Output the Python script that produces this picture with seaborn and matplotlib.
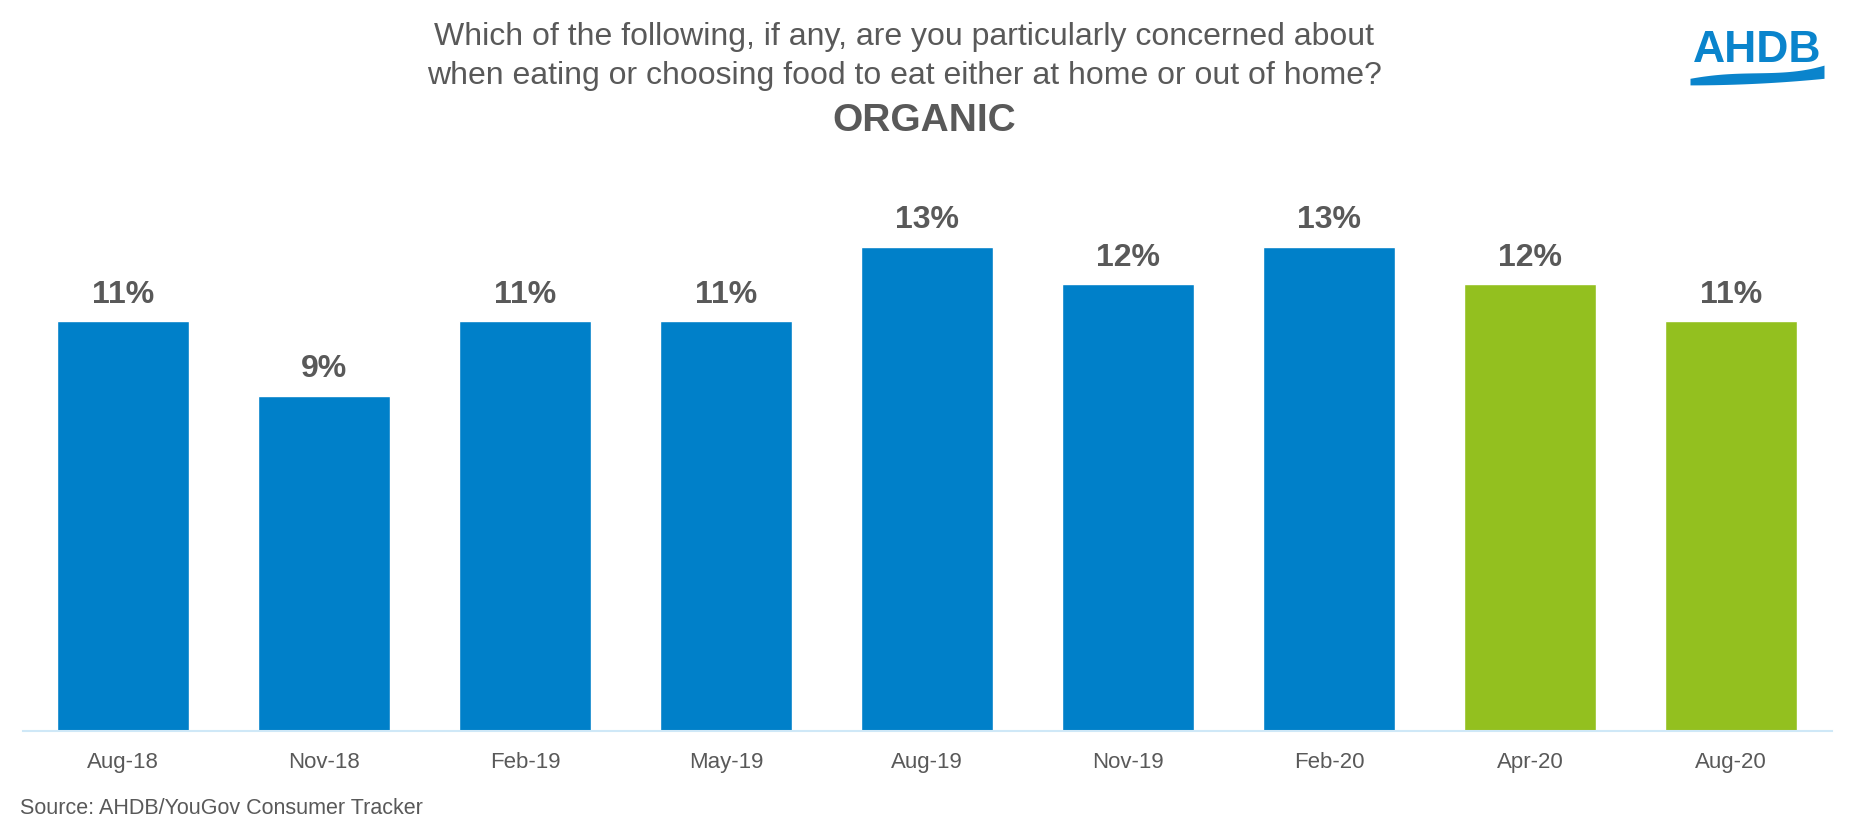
import numpy as np
import pandas as pd
import matplotlib.pyplot as plt
import seaborn as sns

# Chart data
periods = ['Aug-18', 'Nov-18', 'Feb-19', 'May-19', 'Aug-19', 'Nov-19', 'Feb-20', 'Apr-20', 'Aug-20']
values = [11, 9, 11, 11, 13, 12, 13, 12, 11]
groups = ['pre', 'pre', 'pre', 'pre', 'pre', 'pre', 'pre', 'covid', 'covid']

df = pd.DataFrame({'period': periods, 'value': values, 'group': groups})

sns.set_theme(style="white")
plt.rcParams['font.family'] = ['Liberation Sans', 'DejaVu Sans']

GREY = '#595959'
BLUE = '#0080C9'
GREEN = '#93C01F'

fig = plt.figure(figsize=(18.53, 8.38), dpi=100)
ax = fig.add_axes([22.5 / 1853, 107 / 838, 1809 / 1853, 559 / 838])

sns.barplot(data=df, x='period', y='value', hue='group', dodge=False,
            palette={'pre': BLUE, 'covid': GREEN}, width=0.66,
            legend=False, ax=ax, saturation=1)

for cont in ax.containers:
    ax.bar_label(cont, fmt='%d%%', padding=8, fontsize=23, fontweight='bold', color=GREY)

ax.set_xlim(-0.5, len(periods) - 0.5)
ax.set_ylim(0, 15)
ax.set_xlabel('')
ax.set_ylabel('')
ax.set_yticks([])
for side in ['top', 'right', 'left']:
    ax.spines[side].set_visible(False)
ax.spines['bottom'].set_color('#CFE8F7')
ax.spines['bottom'].set_linewidth(1.5)
ax.tick_params(axis='x', length=0, pad=15, labelsize=16, labelcolor=GREY)

# Title
fig.text(0.488, 1 - 37 / 838, 'Which of the following, if any, are you particularly concerned about',
         ha='center', va='center', fontsize=23, color=GREY)
fig.text(0.488, 1 - 76 / 838, 'when eating or choosing food to eat either at home or out of home?',
         ha='center', va='center', fontsize=23, color=GREY)
fig.text(0.499, 1 - 121 / 838, 'ORGANIC', ha='center', va='center',
         fontsize=28, fontweight='bold', color=GREY)

# Source
fig.text(20 / 1853, 1 - 808 / 838, 'Source: AHDB/YouGov Consumer Tracker',
         ha='left', va='center', fontsize=15.5, color=GREY)

# Logo
fig.text(1757 / 1853, 1 - 50 / 838, 'AHDB', ha='center', va='center',
         fontsize=32, fontweight='bold', color='#0A84CC')
lax = fig.add_axes([1690 / 1853, 1 - 86 / 838, 134 / 1853, 22 / 838])
t = np.linspace(0, 1, 100)
upper = 0.35 + 0.35 * np.sin(np.pi * t) * (1 - t) + 0.6 * t ** 3
lower = 0.05 + 0.3 * t ** 2
lax.fill_between(t, lower, upper, color='#0A84CC', lw=0)
lax.set_xlim(0, 1)
lax.set_ylim(0, 1)
lax.axis('off')

fig.savefig('out.png', dpi=100)
